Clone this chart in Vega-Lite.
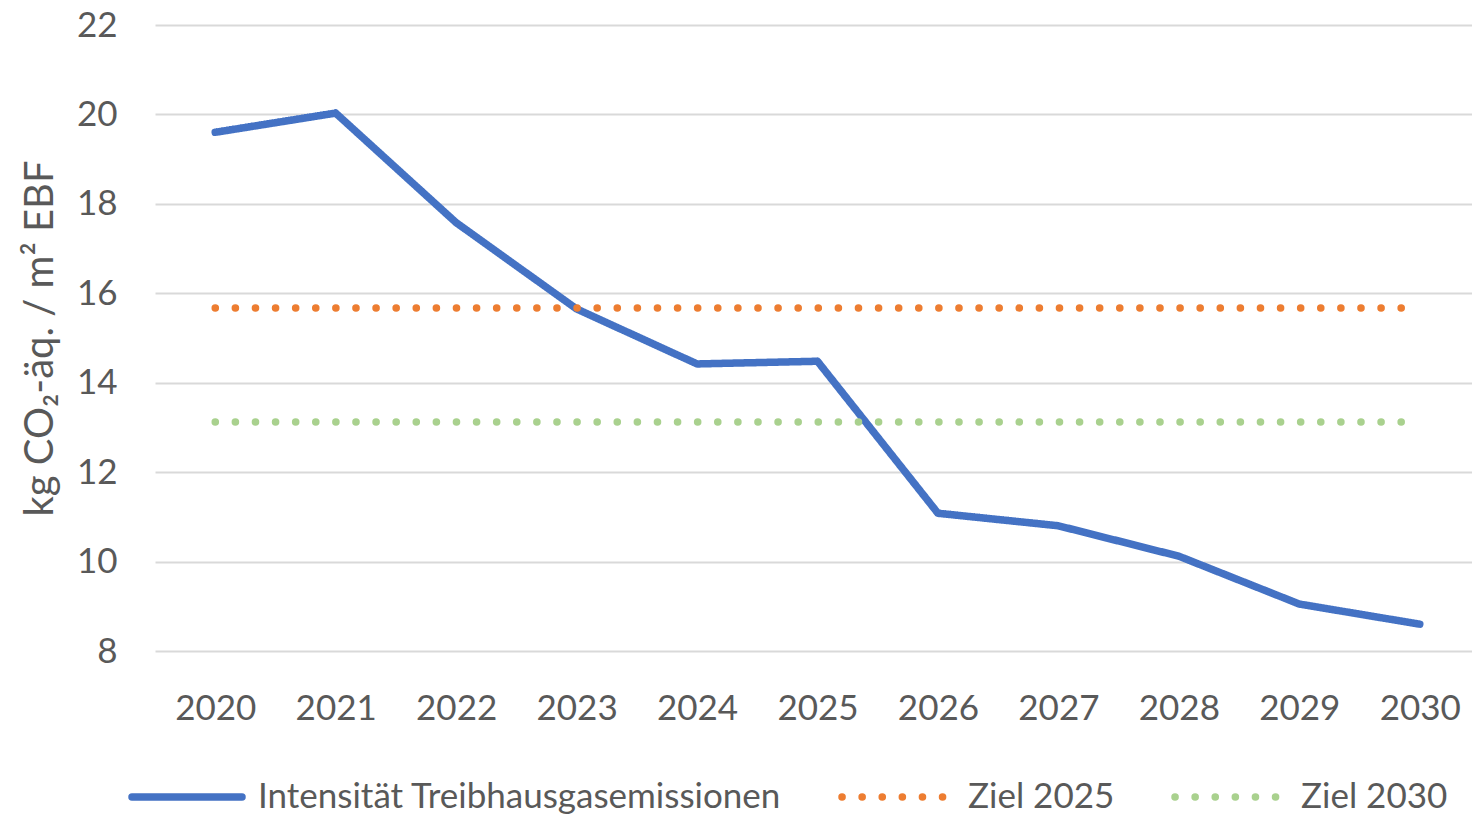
{
  "$schema": "https://vega.github.io/schema/vega-lite/v6.json",
  "width": 1325,
  "height": 626,
  "autosize": {"type": "none"},
  "padding": {"left": 155, "top": 25, "right": -8, "bottom": 164},
  "background": "white",
  "config": {"font": "Lato", "view": {"stroke": null}},
  "data": {
    "values": [
      {"Jahr": "2020", "Serie": "Intensität Treibhausgasemissionen", "Wert": 19.6},
      {"Jahr": "2021", "Serie": "Intensität Treibhausgasemissionen", "Wert": 20.03},
      {"Jahr": "2022", "Serie": "Intensität Treibhausgasemissionen", "Wert": 17.58},
      {"Jahr": "2023", "Serie": "Intensität Treibhausgasemissionen", "Wert": 15.65},
      {"Jahr": "2024", "Serie": "Intensität Treibhausgasemissionen", "Wert": 14.42},
      {"Jahr": "2025", "Serie": "Intensität Treibhausgasemissionen", "Wert": 14.48},
      {"Jahr": "2026", "Serie": "Intensität Treibhausgasemissionen", "Wert": 11.08},
      {"Jahr": "2027", "Serie": "Intensität Treibhausgasemissionen", "Wert": 10.8},
      {"Jahr": "2028", "Serie": "Intensität Treibhausgasemissionen", "Wert": 10.12},
      {"Jahr": "2029", "Serie": "Intensität Treibhausgasemissionen", "Wert": 9.05},
      {"Jahr": "2030", "Serie": "Intensität Treibhausgasemissionen", "Wert": 8.6},
      {"Jahr": "2020", "Serie": "Ziel 2025", "Wert": 15.67},
      {"Jahr": "2021", "Serie": "Ziel 2025", "Wert": 15.67},
      {"Jahr": "2022", "Serie": "Ziel 2025", "Wert": 15.67},
      {"Jahr": "2023", "Serie": "Ziel 2025", "Wert": 15.67},
      {"Jahr": "2024", "Serie": "Ziel 2025", "Wert": 15.67},
      {"Jahr": "2025", "Serie": "Ziel 2025", "Wert": 15.67},
      {"Jahr": "2026", "Serie": "Ziel 2025", "Wert": 15.67},
      {"Jahr": "2027", "Serie": "Ziel 2025", "Wert": 15.67},
      {"Jahr": "2028", "Serie": "Ziel 2025", "Wert": 15.67},
      {"Jahr": "2029", "Serie": "Ziel 2025", "Wert": 15.67},
      {"Jahr": "2030", "Serie": "Ziel 2025", "Wert": 15.67},
      {"Jahr": "2020", "Serie": "Ziel 2030", "Wert": 13.12},
      {"Jahr": "2021", "Serie": "Ziel 2030", "Wert": 13.12},
      {"Jahr": "2022", "Serie": "Ziel 2030", "Wert": 13.12},
      {"Jahr": "2023", "Serie": "Ziel 2030", "Wert": 13.12},
      {"Jahr": "2024", "Serie": "Ziel 2030", "Wert": 13.12},
      {"Jahr": "2025", "Serie": "Ziel 2030", "Wert": 13.12},
      {"Jahr": "2026", "Serie": "Ziel 2030", "Wert": 13.12},
      {"Jahr": "2027", "Serie": "Ziel 2030", "Wert": 13.12},
      {"Jahr": "2028", "Serie": "Ziel 2030", "Wert": 13.12},
      {"Jahr": "2029", "Serie": "Ziel 2030", "Wert": 13.12},
      {"Jahr": "2030", "Serie": "Ziel 2030", "Wert": 13.12}
    ]
  },
  "mark": {"type": "line", "strokeCap": "round", "strokeJoin": "round", "strokeWidth": 7.5},
  "encoding": {
    "x": {
      "field": "Jahr",
      "type": "ordinal",
      "axis": {
        "title": null,
        "labelAngle": 0,
        "labelFontSize": 35,
        "labelColor": "#595959",
        "ticks": false,
        "domain": false,
        "labelPadding": 40
      }
    },
    "y": {
      "field": "Wert",
      "type": "quantitative",
      "scale": {"domain": [8, 22], "nice": false, "zero": false},
      "axis": {
        "values": [8, 10, 12, 14, 16, 18, 20, 22],
        "title": "kg CO₂-äq. / m² EBF",
        "titleFontSize": 40,
        "titleFontWeight": "normal",
        "titleColor": "#595959",
        "titlePadding": 16,
        "labelFontSize": 35,
        "labelColor": "#595959",
        "ticks": false,
        "domain": false,
        "labelPadding": 38,
        "grid": true,
        "gridColor": "#D9D9D9",
        "gridWidth": 2
      }
    },
    "color": {
      "field": "Serie",
      "type": "nominal",
      "scale": {
        "domain": ["Intensität Treibhausgasemissionen", "Ziel 2025", "Ziel 2030"],
        "range": ["#4472C4", "#ED7D31", "#A9D18E"]
      },
      "legend": {
        "title": null,
        "orient": "none",
        "legendX": -27,
        "legendY": 713,
        "direction": "horizontal",
        "symbolType": "stroke",
        "symbolSize": 12100,
        "symbolStrokeWidth": 7.5,
        "labelFontSize": 35,
        "labelColor": "#595959",
        "labelOffset": 12,
        "columnPadding": 45,
        "labelLimit": 800,
        "encode": {"symbols": {"update": {"strokeCap": {"value": "round"}}}}
      }
    },
    "strokeDash": {
      "field": "Serie",
      "type": "nominal",
      "scale": {
        "domain": ["Intensität Treibhausgasemissionen", "Ziel 2025", "Ziel 2030"],
        "range": [[1, 0], [0.1, 20], [0.1, 20]]
      },
      "legend": {
        "title": null,
        "orient": "none",
        "legendX": -27,
        "legendY": 713,
        "direction": "horizontal",
        "symbolType": "stroke",
        "symbolSize": 12100,
        "symbolStrokeWidth": 7.5,
        "labelFontSize": 35,
        "labelColor": "#595959",
        "labelOffset": 12,
        "columnPadding": 45,
        "labelLimit": 800,
        "encode": {"symbols": {"update": {"strokeCap": {"value": "round"}}}}
      }
    }
  }
}
